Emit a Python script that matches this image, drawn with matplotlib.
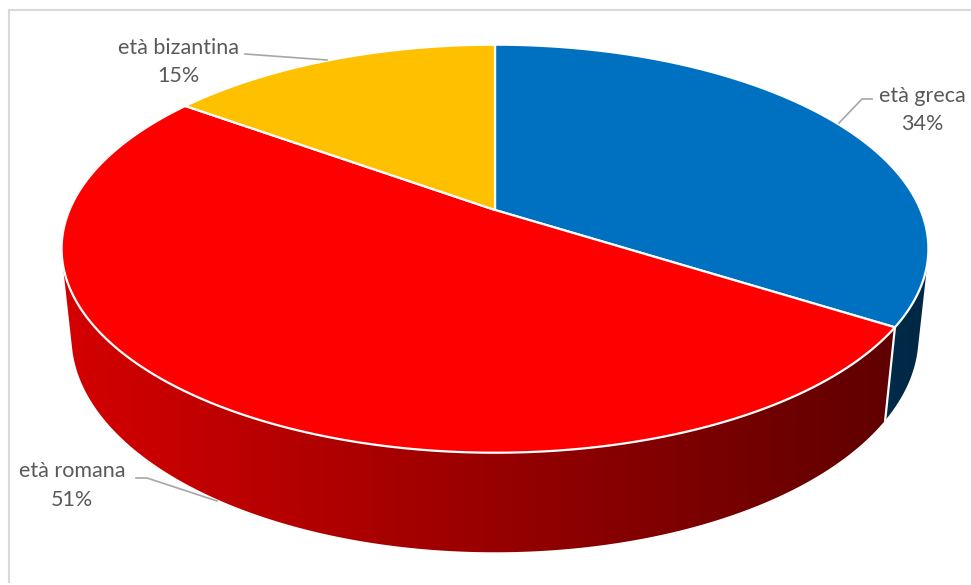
import numpy as np
import matplotlib
matplotlib.use("Agg")
import matplotlib.pyplot as plt
from matplotlib.patches import Polygon

# Data
categories = ["età greca", "età romana", "età bizantina"]
shares = [34, 51, 15]
colors = ["#0070C0", "#FF0000", "#FFC000"]

# Perspective camera for the 3D pie (disk of radius 1 in the xy plane)
PHI = np.radians(27.2)      # elevation of the camera
DIST = 4.69                 # camera distance (in disk radii)
FOCAL = 2018.0              # focal length in pixels
XSCALE = 0.989              # horizontal stretch of the projected pie
CX, CY = 495.0, 210.0       # screen position of the pie centre
THICK = 0.231               # pie thickness (in disk radii)

def project(x, y, z):
    c, s = np.cos(PHI), np.sin(PHI)
    depth = DIST + y * c - z * s
    up = y * s + z * c
    return CX + XSCALE * FOCAL * x / depth, CY - FOCAL * up / depth, depth

W, H = 971, 585
fig = plt.figure(figsize=(W / 100, H / 100), dpi=100)
ax = fig.add_axes([0, 0, 1, 1])
ax.set_xlim(0, W)
ax.set_ylim(H, 0)
ax.axis("off")

# chart frame
ax.plot([8.5, 8.5, W + 5], [582, 9.5, 9.5], color="#D9D9D9", lw=1.5,
        solid_joinstyle="miter", zorder=0)

# slice angles: start at 12 o'clock, run clockwise
total = float(sum(shares))
bounds = [0.0]
for v in shares:
    bounds.append(bounds[-1] + v / total)
angles = [np.pi / 2 - 2 * np.pi * b for b in bounds]

def rgb(hexc):
    hexc = hexc.lstrip("#")
    return np.array([int(hexc[i:i + 2], 16) for i in (0, 2, 4)]) / 255.0

# horizontal shading ramp for the outer wall (light from the left)
xl, _, _ = project(-1, 0, 0)
xr, _, _ = project(1, 0, 0)
gx = np.linspace(0, W, 600)
ramp = np.clip(0.83 - 0.47 * (gx - xl) / (xr - xl), 0, 1)

# the cylinder wall faces the camera where sin(t) < -1 / (DIST cos(PHI))
contour = -1.0 / (DIST * np.cos(PHI))

# outer walls: front part of each slice, filled with the shading ramp
for i, col in enumerate(colors):
    a0, a1 = angles[i], angles[i + 1]
    ts = np.linspace(a0, a1, 600)
    ts = ts[np.sin(ts) <= contour]
    if len(ts) < 2:
        continue
    xt, yt, _ = project(np.cos(ts), np.sin(ts), 0)
    xb, yb, _ = project(np.cos(ts), np.sin(ts), -THICK)
    pts = list(zip(xt, yt)) + list(zip(xb[::-1], yb[::-1]))
    wall = Polygon(pts, closed=True, facecolor="none", edgecolor="none",
                   zorder=1)
    ax.add_patch(wall)
    img = np.clip(rgb(col)[None, None, :] * ramp[None, :, None], 0, 1)
    im = ax.imshow(img, extent=(0, W, H, 0), aspect="auto",
                   interpolation="bilinear", zorder=1)
    im.set_clip_path(wall)

# white seams on the wall where slices meet (front only)
for a in angles[:-1]:
    if np.sin(a) < contour:
        xa, ya, _ = project(np.cos(a), np.sin(a), 0)
        xb_, yb_, _ = project(np.cos(a), np.sin(a), -THICK)
        ax.plot([xa, xb_], [ya, yb_], color="white", lw=1.6, zorder=2)

# top face wedges
for i, col in enumerate(colors):
    a0, a1 = angles[i], angles[i + 1]
    ts = np.linspace(a0, a1, 300)
    xs, ys, _ = project(np.cos(ts), np.sin(ts), 0)
    pts = [(CX, CY)] + list(zip(xs, ys))
    ax.add_patch(Polygon(pts, closed=True, facecolor=col, edgecolor="white",
                         lw=1.6, joinstyle="round", zorder=3))

# data labels with leader lines
label_font = dict(family=["Lato", "DejaVu Sans"], fontsize=15.5,
                  color="#595959", ha="center", va="center", zorder=5)
lead = dict(color="#A6A6A6", lw=1.2, zorder=4)

def pct(v):
    return f"{round(100 * v / total)}%"

# età greca
ax.text(922, 96, categories[0], **label_font)
ax.text(922, 124, pct(shares[0]), **label_font)
ax.plot([872, 862, 839], [99, 99, 123], **lead)

# età romana
ax.text(72, 471, categories[1], **label_font)
ax.text(72, 500, pct(shares[1]), **label_font)
ax.plot([136, 147, 217], [478, 478, 501], **lead)

# età bizantina
ax.text(178, 48, categories[2], **label_font)
ax.text(178, 76, pct(shares[2]), **label_font)
ax.plot([245, 327], [54, 60], **lead)

fig.savefig("out.png", dpi=100, facecolor="white")
